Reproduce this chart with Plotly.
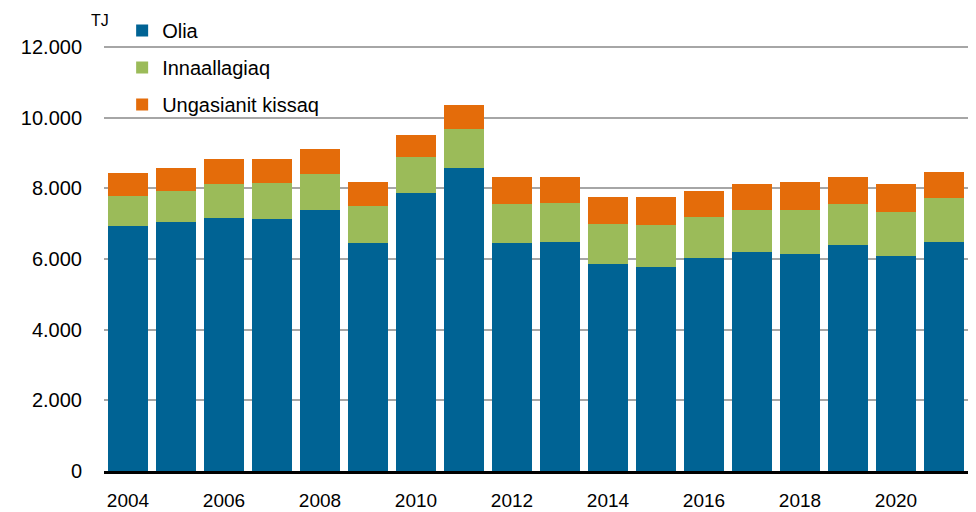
import plotly.graph_objects as go

years = list(range(2004, 2022))
olia = [6925, 7047, 7170, 7140, 7380, 6440, 7870, 8565, 6460, 6490, 5860, 5785, 6040, 6210, 6150, 6390, 6095, 6490]
innaallagiaq = [850, 877, 960, 1000, 1030, 1060, 1030, 1105, 1085, 1095, 1130, 1180, 1150, 1180, 1235, 1180, 1245, 1245]
ungasianit = [670, 660, 700, 690, 710, 680, 600, 700, 765, 730, 755, 800, 735, 745, 795, 745, 785, 735]

series_names = ["Olia", "Innaallagiaq", "Ungasianit kissaq"]
colors = ["#006394", "#9BBB59", "#E46C0A"]
tick_years = [2004, 2006, 2008, 2010, 2012, 2014, 2016, 2018, 2020]
y_ticks = [0, 2000, 4000, 6000, 8000, 10000, 12000]

FONT = "Liberation Sans, Arial, sans-serif"

fig = go.Figure()
for name, vals, col in zip(series_names, [olia, innaallagiaq, ungasianit], colors):
    fig.add_trace(go.Bar(
        x=years, y=vals, name=name, legendgroup=name,
        marker=dict(color=col, line=dict(width=0)),
    ))

fig.update_layout(
    width=976, height=512,
    barmode="stack", bargap=0.175,
    separators=",.",
    paper_bgcolor="white", plot_bgcolor="white",
    margin=dict(l=104, r=8, t=46, b=41, autoexpand=False),
    font=dict(family=FONT, size=20, color="#000000"),
    showlegend=True,
    legend=dict(
        traceorder="grouped", tracegroupgap=8,
        x=0.021, xanchor="left", y=1.0825, yanchor="top",
        bgcolor="rgba(0,0,0,0)",
        font=dict(family=FONT, size=20, color="#000000"),
    ),
    xaxis=dict(
        range=[2003.5, 2021.5], tickvals=tick_years, ticktext=[str(y) for y in tick_years],
        showgrid=False, showline=True, linecolor="#000000", linewidth=2.5,
        ticks="", ticklabelstandoff=10,
        tickfont=dict(family=FONT, size=19),
        zeroline=False,
    ),
    yaxis=dict(
        range=[0, 12030], tickvals=y_ticks, tickformat=",d",
        showgrid=True, gridcolor="#A6A6A6", gridwidth=2,
        zeroline=False, showline=False, ticks="", ticklabelstandoff=21,
        tickfont=dict(family=FONT, size=20),
    ),
    annotations=[dict(
        text="TJ", xref="paper", yref="paper", x=-0.005, y=1.061,
        xanchor="center", yanchor="middle", showarrow=False,
        font=dict(family=FONT, size=16, color="#000000"),
    )],
)

fig.write_html(
    "out.html",
    config={"displayModeBar": False},
    post_script="document.body.style.margin='0';document.body.style.overflow='hidden';",
)
